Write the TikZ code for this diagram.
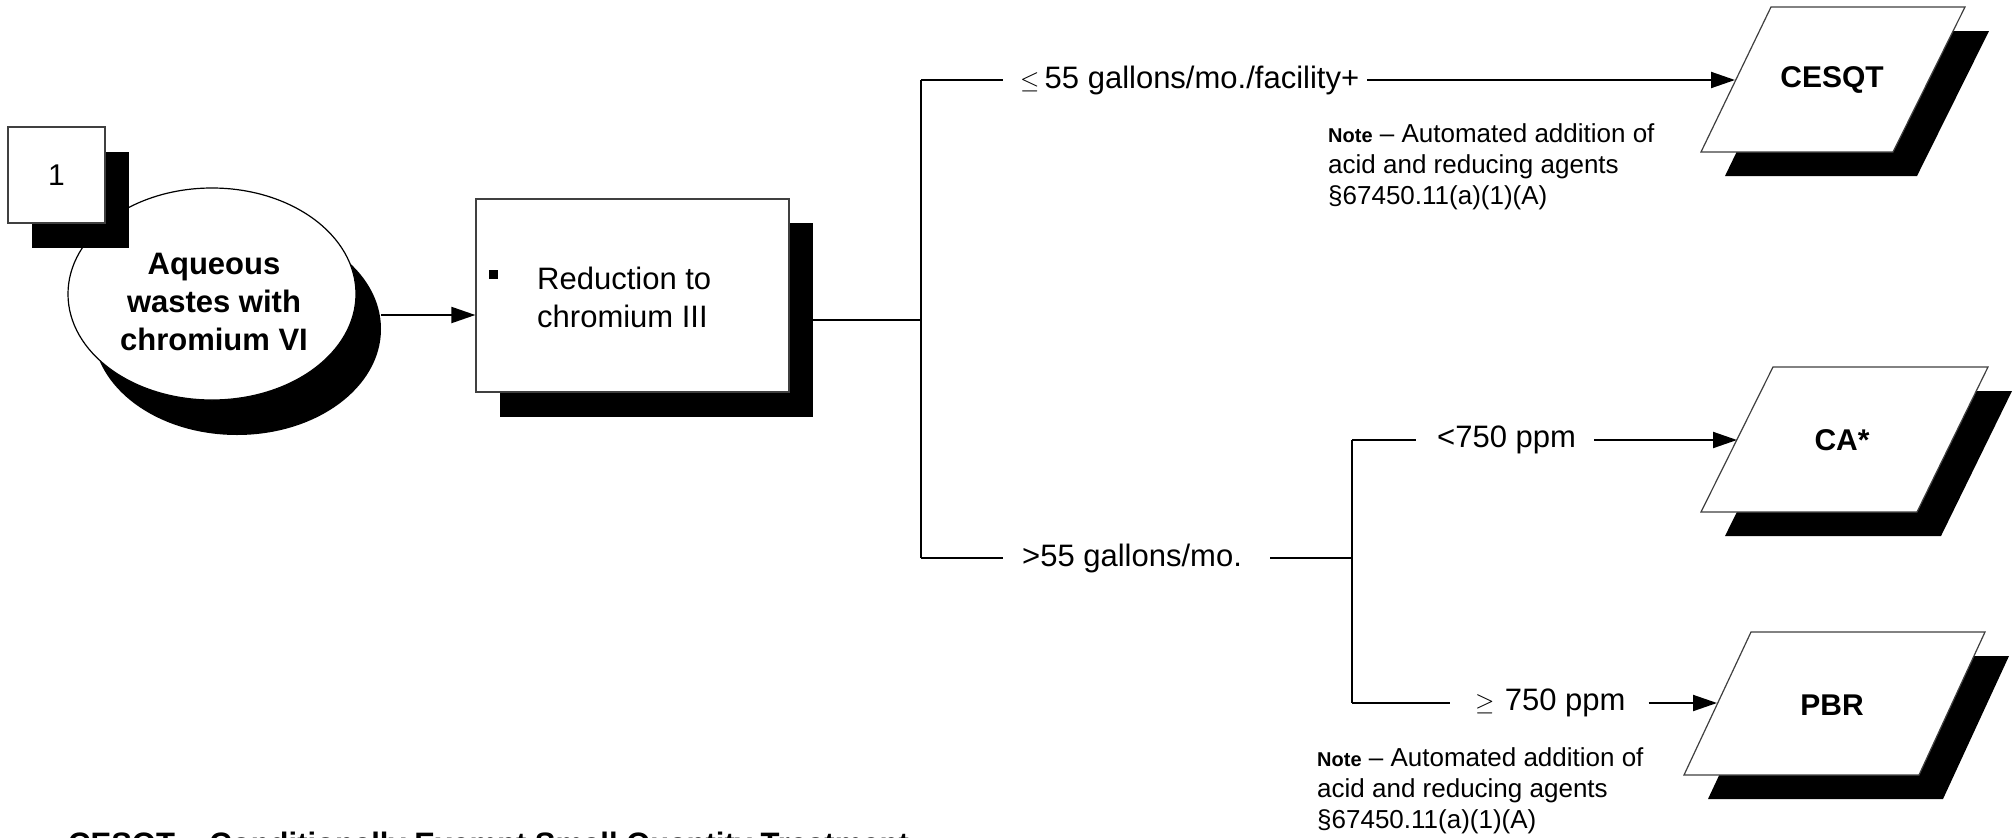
\documentclass[tikz,border=0pt]{standalone}
\usepackage{fontspec}
\setmainfont{Liberation Sans}
\usetikzlibrary{shapes.geometric,arrows.meta,calc}
\begin{document}
\begin{tikzpicture}[x=1pt,y=-1pt,
  conn/.style={line width=2pt, black},
  arr/.style={conn, -{Triangle[length=24pt,width=16pt]}},
  outl/.style={draw=black!75, line width=1.2pt, fill=white},
  shad/.style={fill=black, draw=none},
  lab/.style={font=\fontsize{31}{38}\selectfont, inner sep=0pt, anchor=west},
  ttl/.style={font=\bfseries\fontsize{31}{38}\selectfont, align=center, inner sep=0pt},
  note/.style={font=\fontsize{26}{31}\selectfont, align=left, anchor=west, inner sep=0pt}
]
\useasboundingbox (0,0) rectangle (2014,838);
\fill[white] (0,0) rectangle (2014,838);
\clip (0,0) rectangle (2014,838);

% source ellipse
\node[ellipse, shad, minimum width=288, minimum height=212, inner sep=0pt, outer sep=0pt] (srcsh) at (237,329) {};
\node[ellipse, outl, draw=black, minimum width=288, minimum height=212, inner sep=0pt, outer sep=0pt] (src) at (212,294) {};
\node[ttl] (srct) at (214,302) {Aqueous\\wastes with\\chromium VI};

% box 1
\node[shad, minimum width=97, minimum height=96, inner sep=0pt] (n1sh) at (80.5,200) {};
\node[outl, minimum width=97, minimum height=96, inner sep=0pt, font=\fontsize{30}{30}\selectfont] (n1) at (56.5,175) {1};

% reduction box
\node[shad, minimum width=313, minimum height=194, inner sep=0pt] (redsh) at (656.5,320) {};
\node[outl, minimum width=313, minimum height=193, inner sep=0pt] (red) at (632.5,295.5) {};
\node[fill=black, minimum size=9, inner sep=0pt] (bul) at (493,274) {};
\node[lab, align=left] (redt) at (537,297) {Reduction to\\chromium III};

\coordinate (a1) at (381,315);
\draw[arr] (a1) -- (a1 -| red.west);

% tree
\coordinate (j0) at (921,320);
\coordinate (j1) at (921,80);
\coordinate (j2) at (921,558);
\draw[conn] (redsh.east) -- (j0);
\draw[conn] (j1) -- (j2);

% parallelograms
\fill[black] (1725,176) -- (1795,31) -- (1989,31) -- (1917,176) -- cycle;
\filldraw[outl] (1701,152) -- (1771,7) -- (1965,7) -- (1893,152) -- cycle;
\node[ttl, font=\bfseries\fontsize{30}{36}\selectfont] (cesqt) at (1832,80) {CESQT};

\fill[black] (1725,536) -- (1797,391) -- (2012,391) -- (1941,536) -- cycle;
\filldraw[outl] (1701,512) -- (1773,367) -- (1988,367) -- (1917,512) -- cycle;
\node[ttl, font=\bfseries\fontsize{30}{36}\selectfont] (ca) at (1842,440) {CA*};

\fill[black] (1708,799) -- (1775,656) -- (2009,656) -- (1943,799) -- cycle;
\filldraw[outl] (1684,775) -- (1751,632) -- (1985,632) -- (1919,775) -- cycle;
\node[ttl, font=\bfseries\fontsize{30}{36}\selectfont] (pbr) at (1832,705) {PBR};

\coordinate (t1) at (1735,80);
\coordinate (t2) at (1737,440);
\coordinate (t3) at (1717,703);

% top branch
\node[lab] (l1) at (1020,80) {$\leq$\,55 gallons/mo./facility+};
\draw[conn] (j1) -- ([xshift=-17pt]l1.west);
\draw[arr] ([xshift=8pt]l1.east) -- (t1);

% bottom branch
\node[lab] (l2) at (1022,558) {>55 gallons/mo.};
\draw[conn] (j2) -- ([xshift=-19pt]l2.west);
\coordinate (k0) at (1352,558);
\coordinate (k1) at (1352,440);
\coordinate (k2) at (1352,703);
\draw[conn] ([xshift=28pt]l2.east) -- (k0);
\draw[conn] (k1) -- (k2);

\node[lab] (l3) at (1437,440) {<750 ppm};
\draw[conn] (k1) -- ([xshift=-21pt]l3.west);
\draw[arr] ([xshift=18pt]l3.east) -- (t2);

\node[lab] (l4) at (1475,703) {$\geq$\,\,750 ppm};
\draw[conn] (k2) -- ([xshift=-25pt]l4.west);
\draw[arr] ([xshift=23pt]l4.east) -- (t3);

% notes
\node[note] (note1) at (1328,167) {{\bfseries\fontsize{20}{31}\selectfont Note} – Automated addition of\\acid and reducing agents\\\S67450.11(a)(1)(A)};
\node[note] (note2) at (1317,791) {{\bfseries\fontsize{20}{31}\selectfont Note} – Automated addition of\\acid and reducing agents\\\S67450.11(a)(1)(A)};

% caption (cut off at the bottom edge)
\node[anchor=base west, inner sep=0pt, font=\bfseries\fontsize{31}{38}\selectfont] (cap) at (68,854) {CESQT – Conditionally Exempt Small Quantity Treatment};
\end{tikzpicture}
\end{document}
